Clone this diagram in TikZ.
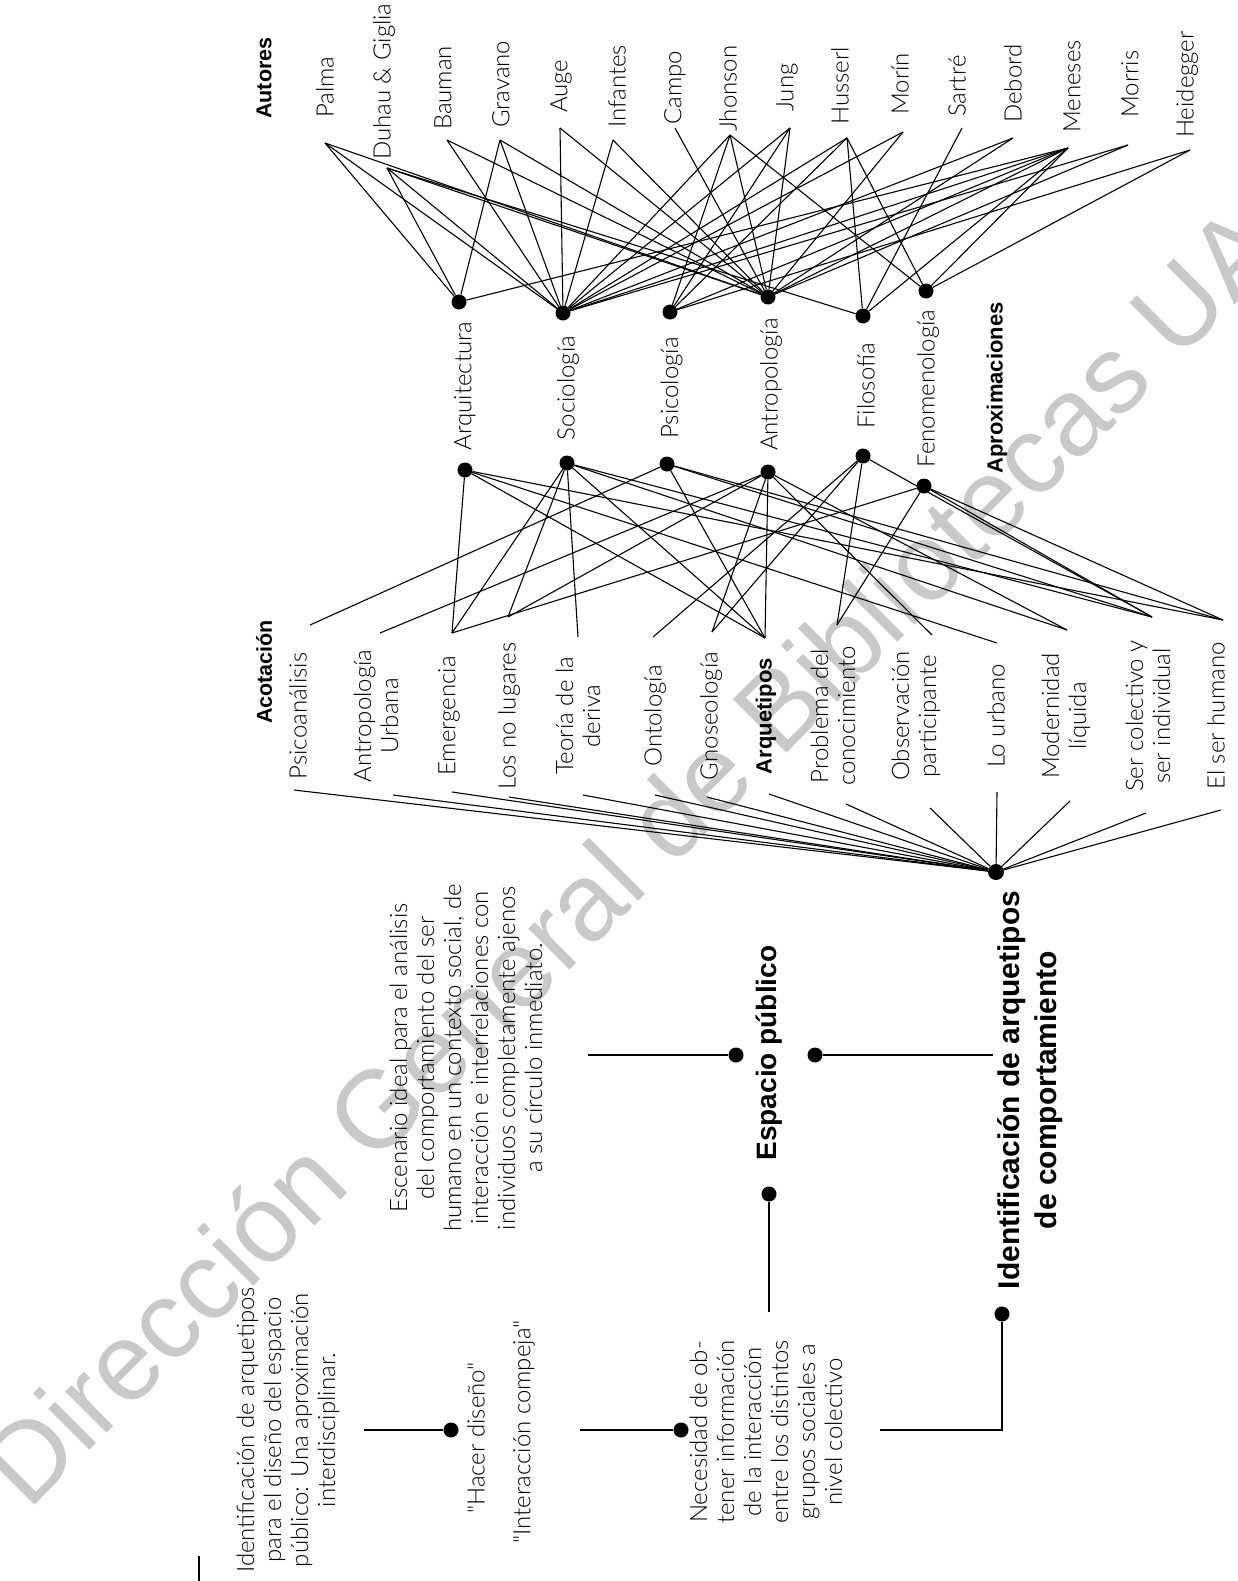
\documentclass[tikz,border=0pt]{standalone}
\usepackage{fontspec}
\setmainfont{Lato}
\IfFontExistsTF{Lato Light}{\newfontfamily\lato{Lato Light}}{\newfontfamily\lato{Lato}}
\newfontfamily\hfont{Liberation Sans}
\newfontfamily\wmfont{Liberation Sans}
\definecolor{wmgray}{HTML}{C9C9C9}
\begin{document}
\begin{tikzpicture}[x=1pt,y=-1pt,
  lbl/.style={rotate=90, font=\lato\fontsize{24}{27}\selectfont, inner sep=0pt, align=center},
  hdr/.style={rotate=90, font=\hfont\bfseries\fontsize{21.5}{25}\selectfont, inner sep=0pt},
  big/.style={rotate=90, font=\hfont\bfseries\fontsize{30}{37}\selectfont, inner sep=0pt, align=center},
  dot/.style={circle, fill=black, inner sep=0pt, minimum size=15pt},
  net/.style={line width=1.1pt},
  conn/.style={line width=2.8pt}]
\useasboundingbox (0,0) rectangle (1238,1581);
% watermark
\node[rotate=45, anchor=base west, text=wmgray, inner sep=0pt,
      font=\wmfont\fontsize{110}{110}\selectfont] (wm) at (28,1512) {Dirección General de Bibliotecas UAQ};
% ---------------- Autores
\node[hdr, anchor=west] (autores) at (264,119) {Autores};
\foreach \n/\t/\x/\y/\ex/\ey in {
  palma/Palma/325/118/325/143,
  duhau/Duhau \& Giglia/384/160/387/168,
  bauman/Bauman/443/130/447/140,
  gravano/Gravano/501/128/500/140,
  auge/Auge/561/113/560/128,
  infantes/Infantes/617/128/613/140,
  campo/Campo/675/125/675/128,
  jhonson/Jhonson/728/132/730/135,
  jung/Jung/787/112/790/128,
  husserl/Husserl/840/125/847/138,
  morin/Morín/900/115/903/132,
  sartre/Sartré/957/117/962/128,
  debord/Debord/1013/123/1013/138,
  meneses/Meneses/1072/133/1068/148,
  morris/Morris/1130/118/1128/145,
  heidegger/Heidegger/1187/138/1190/150}{
  \node[lbl, anchor=west] (\n) at (\x,\y) {\t};
  \coordinate (p\n) at (\ex,\ey);
}
% ---------------- Aproximaciones
\foreach \n/\t/\ux/\uy/\lx/\ly in {
  Arq/Arquitectura/459/302/465/470,
  Soc/Sociología/563/313/567/463,
  Psi/Psicología/670/312/667/464,
  Ant/Antropología/768/297/768/472,
  Fil/Filosofía/863/316/863/456,
  Fen/Fenomenología/926/291/924/486}{
  \node[dot] (u\n) at (\ux,\uy) {};
  \node[dot] (l\n) at (\lx,\ly) {};
  \node[lbl] (t\n) at ({(\ux+\lx)/2+3},{(\uy+\ly)/2}) {\t};
}
\node[hdr, font=\hfont\bfseries\fontsize{22}{25}\selectfont] (aprox) at (997,388) {Aproximaciones};
% author edges
\foreach \a/\b in {
  palma/Arq, palma/Soc, palma/Ant,
  duhau/Arq, duhau/Soc, duhau/Ant, duhau/Fil,
  bauman/Soc, bauman/Ant,
  gravano/Arq, gravano/Soc, gravano/Ant,
  auge/Soc, auge/Ant,
  infantes/Soc, infantes/Ant,
  campo/Ant,
  jhonson/Soc, jhonson/Psi, jhonson/Ant, jhonson/Fen,
  jung/Soc, jung/Psi, jung/Ant,
  husserl/Soc, husserl/Psi, husserl/Fil, husserl/Fen,
  morin/Soc, morin/Ant,
  sartre/Fil,
  debord/Soc, debord/Ant,
  meneses/Arq, meneses/Soc, meneses/Psi, meneses/Ant, meneses/Fil, meneses/Fen,
  morris/Soc, morris/Ant,
  heidegger/Psi, heidegger/Fen}{
  \draw[net] (p\a) -- (u\b);
}
% ---------------- Acotacion
\node[hdr, anchor=west] (acotacion) at (264,724) {Acotación};
\foreach \n/\t/\x/\tx/\ty/\bx/\by in {
  psico/Psicoanálisis/298/310/625/294/790,
  anturb/{Antropología\\Urbana}/376/380/633/393/795,
  emerg/Emergencia/449/452/633/452/792,
  nolug/Los no lugares/509/508/617/509/797,
  teoria/{Teoría de la\\deriva}/578/578/637/583/795,
  onto/Ontología/655/653/637/655/795,
  gnoseo/Gnoseología/711/712/632/707/797,
  probl/{Problema del\\conocimiento}/833/837/625/846/804,
  obs/{Observación\\participante}/916/932/635/930/808,
  lourb/Lo urbano/996/997/643/997/792,
  moder/{Modernidad\\líquida}/1066/1067/630/1070/801,
  sercol/{Ser colectivo y\\ser individual}/1148/1152/617/1146/813,
  elser/El ser humano/1216/1223/620/1221/810}{
  \node[lbl] (c\n) at (\x,716) {\t};
  \coordinate (ct\n) at (\tx,\ty);
  \coordinate (cb\n) at (\bx,\by);
}
\node[lbl, font=\hfont\bfseries\fontsize{22}{27}\selectfont] (carqt) at (766,716) {Arquetipos};
\coordinate (ctarqt) at (765,638);
\coordinate (cbarqt) at (769,794);
% approach -> acotacion edges
\foreach \a/\b in {
  Arq/emerg, Arq/arqt, Arq/lourb, Arq/elser,
  Soc/emerg, Soc/nolug, Soc/teoria, Soc/arqt, Soc/moder, Soc/sercol,
  Psi/psico, Psi/arqt, Psi/sercol, Psi/elser,
  Ant/anturb, Ant/nolug, Ant/gnoseo, Ant/arqt, Ant/obs, Ant/moder,
  Fil/onto, Fil/gnoseo, Fil/probl, Fil/sercol,
  Fen/emerg, Fen/probl, Fen/sercol, Fen/elser}{
  \draw[net] (l\a) -- (ct\b);
}
% hub
\node[dot, minimum size=16pt] (hub) at (996,872) {};
\foreach \b in {psico,anturb,emerg,nolug,teoria,onto,gnoseo,arqt,probl,obs,lourb,moder,sercol,elser}{
  \draw[net] (hub) -- (cb\b);
}
% ---------------- lower part
\node[lbl] (escenario) at (466,1058) {Escenario ideal para el análisis\\del comportamiento del ser\\humano en un contexto social, de\\interacción e interrelaciones con\\individuos completamente ajenos\\a su círculo inmediato.};
\node[big, font=\hfont\bfseries\fontsize{28}{35}\selectfont] (espacio) at (769,1053) {Espacio público};
\node[dot] (espL) at (736,1055) {};
\node[dot] (espR) at (815,1055) {};
\node[dot] (espB) at (769,1194) {};
\coordinate (escR) at (588,1055);
\coordinate (identL) at (993,1055);
\coordinate (necT) at (769,1312);
\draw[conn] (escR) -- (espL);
\draw[conn] (espR) -- (identL);
\draw[conn] (espB) -- (necT);
\node[big] (ident) at (1030,1090) {Identificación de arquetipos\\de comportamiento};
\node[dot] (identB) at (1002,1314) {};
\coordinate (necR) at (880,1430);
\draw[conn] (identB) |- (necR);
\node[lbl] (necesidad) at (766,1432) {Necesidad de ob-\\tener información\\de la interacción\\entre los distintos\\grupos sociales a\\nivel colectivo};
\node[lbl] (interaccion) at (524,1432) {"Interacción compeja"};
\node[dot] (necL) at (681,1430) {};
\coordinate (intR) at (580,1430);
\draw[conn] (intR) -- (necL);
\node[lbl] (hacer) at (476,1438) {"Hacer diseño"};
\node[dot] (hacL) at (451,1430) {};
\coordinate (titR) at (364,1430);
\draw[conn] (titR) -- (hacL);
\node[lbl] (titulo) at (288,1430) {Identificación de arquetipos\\para el diseño del espacio\\público: Una aproximación\\interdisciplinar.};
\coordinate (m1) at (199,1556);
\coordinate (m2) at (199,1581);
\draw[line width=1.6pt] (m1) -- (m2);
\end{tikzpicture}
\end{document}
